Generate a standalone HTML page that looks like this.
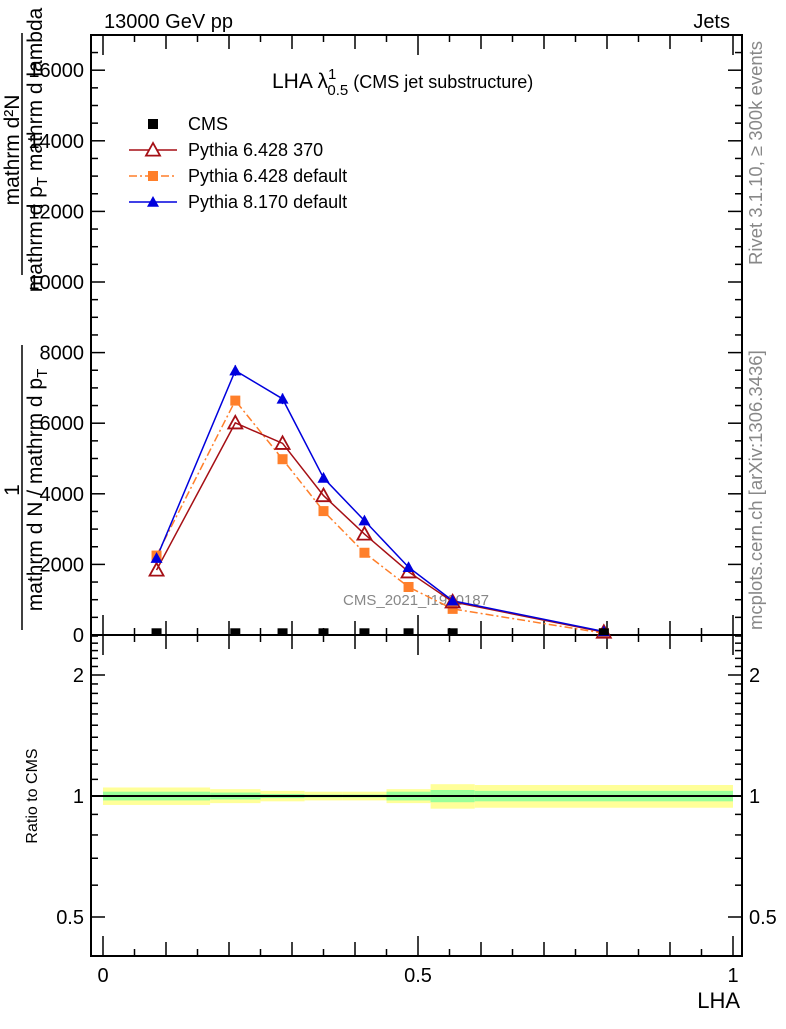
<!DOCTYPE html>
<html><head><meta charset="utf-8"><style>
body{margin:0;background:#fff}
svg{font-family:"Liberation Sans",sans-serif}
</style></head><body>
<svg id="c" width="786" height="1024" viewBox="0 0 786 1024" xmlns="http://www.w3.org/2000/svg">
<text x="104" y="28" font-size="20">13000 GeV pp</text>
<text x="730" y="28" font-size="20" text-anchor="end">Jets</text>
<text x="272" y="88" font-size="21">LHA λ<tspan font-size="15" dy="-9">1</tspan><tspan font-size="15" dx="-9" dy="16">0.5</tspan><tspan font-size="18" dy="-7"> (CMS jet substructure)</tspan></text>
<g font-size="18.5" fill="#888">
<text transform="translate(762,265) rotate(-90)">Rivet 3.1.10, ≥ 300k events</text>
<text transform="translate(762,630) rotate(-90)">mcplots.cern.ch [arXiv:1306.3436]</text>
<text x="416" y="605" text-anchor="middle" font-size="15">CMS_2021_I1920187</text>
</g>
<g font-size="21">
<text transform="translate(19,150) rotate(-90)" text-anchor="middle">mathrm d²N</text>
<line x1="22" y1="33" x2="22" y2="275" stroke="#000" stroke-width="1.5"/>
<text transform="translate(42,150) rotate(-90)" text-anchor="middle">mathrm d p<tspan font-size="15" dy="5">T</tspan><tspan dy="-5"> mathrm d lambda</tspan></text>
<text transform="translate(19,490) rotate(-90)" text-anchor="middle">1</text>
<line x1="22" y1="345" x2="22" y2="630" stroke="#000" stroke-width="1.5"/>
<text transform="translate(42,490) rotate(-90)" text-anchor="middle">mathrm d N / mathrm d p<tspan font-size="15" dy="5">T</tspan></text>
</g>
<text transform="translate(37,796) rotate(-90)" font-size="16" text-anchor="middle">Ratio to CMS</text>
<text x="740" y="1008" font-size="22" text-anchor="end">LHA</text>
<g id="bands"></g>
<g id="axes"></g>
<g id="series"></g>
<g id="legend"></g>
</svg>
<script>
const binEdges=[0,0.17,0.25,0.32,0.38,0.45,0.52,0.59,1.0];
const cmsVals=[20,20,20,20,20,20,20,20];
const p6370=[1840,6010,5430,3950,2860,1790,940,80];
const p6def=[2250,6640,4980,3510,2330,1360,740,50];
const p8def=[2180,7490,6690,4450,3240,1920,970,100];
const p8err=[80,150,150,100,80,60,40,10];
const yellowRel=[0.05,0.04,0.03,0.025,0.025,0.04,0.07,0.065];
const greenRel=[0.025,0.02,0.012,0.008,0.008,0.025,0.035,0.03];
const yTicks=[0,2000,4000,6000,8000,10000,12000,14000,16000];
const rTicks=[0.5,1,2];
const xTicks=[0,0.5,1];

const NS="http://www.w3.org/2000/svg";
const L=91,R=742,T=35,MB=635,RB=956;
const X=v=>103+v*630;
const Y=v=>MB-v*0.0353;
const RY=v=>796-Math.log10(v)/0.30103*121;
function mk(p,tag,at){const e=document.createElementNS(NS,tag);for(const k in at)e.setAttribute(k,at[k]);document.getElementById(p).appendChild(e);return e;}
for(let i=0;i<8;i++){
 const x1=X(binEdges[i]),x2=X(binEdges[i+1]);
 let e=mk('bands','rect',{x:x1,y:RY(1+yellowRel[i]),width:x2-x1,height:RY(1-yellowRel[i])-RY(1+yellowRel[i]),fill:'#ffff99'});
 
 
 e=mk('bands','rect',{x:x1,y:RY(1+greenRel[i]),width:x2-x1,height:RY(1-greenRel[i])-RY(1+greenRel[i]),fill:'#99ff99'});
 
 
}
let ln=mk('bands','line',{x1:L,x2:R,y1:RY(1),y2:RY(1),stroke:'#000','stroke-width':2});


let f=mk('axes','rect',{x:L,y:T,width:R-L,height:MB-T,fill:'none',stroke:'#000','stroke-width':2});


f=mk('axes','rect',{x:L,y:MB,width:R-L,height:RB-MB,fill:'none',stroke:'#000','stroke-width':2});


for(let v=0;v<=17000;v+=500){const y=Y(v);const len=v%2000===0?14:7;
 mk('axes','line',{x1:L,x2:L+len,y1:y,y2:y,stroke:'#000','stroke-width':1.5});
 mk('axes','line',{x1:R,x2:R-len,y1:y,y2:y,stroke:'#000','stroke-width':1.5});}
yTicks.forEach(v=>{const t=mk('axes','text',{x:84,y:Y(v)+7,'font-size':20,'text-anchor':'end'});t.textContent=v;
 
 });
const rMinor=[0.4,0.5,0.6,0.7,0.8,0.9,1,1.1,1.2,1.3,1.4,1.5,1.6,1.7,1.8,1.9,2,2.1,2.2,2.3,2.4,2.5];
rMinor.forEach(v=>{const y=RY(v);if(y<MB||y>RB)return;const len=rTicks.includes(v)?14:7;
 mk('axes','line',{x1:L,x2:L+len,y1:y,y2:y,stroke:'#000','stroke-width':1.5});
 mk('axes','line',{x1:R,x2:R-len,y1:y,y2:y,stroke:'#000','stroke-width':1.5});});
rTicks.forEach(v=>{let t=mk('axes','text',{x:84,y:RY(v)+7,'font-size':20,'text-anchor':'end'});t.textContent=v;
 
 
 t=mk('axes','text',{x:749,y:RY(v)+7,'font-size':20});t.textContent=v;
 
 });
for(let k=0;k<=20;k++){const v=k*0.05;const x=X(v);const len=(k%10===0)?20:(k%2===0?14:7);
 [[T,1],[MB,-1],[MB,1],[RB,-1]].forEach(([y0,d])=>mk('axes','line',{x1:x,x2:x,y1:y0,y2:y0+d*len,stroke:'#000','stroke-width':1.5}));}
xTicks.forEach(v=>{const t=mk('axes','text',{x:X(v),y:982,'font-size':20,'text-anchor':'middle'});t.textContent=v;
 
 });
const cx=binEdges.slice(0,8).map((e,i)=>(e+binEdges[i+1])/2);
function line(vals,col,dash,name){const p=mk('series','polyline',{points:vals.map((v,i)=>X(cx[i])+','+Y(v)).join(' '),fill:'none',stroke:col,'stroke-width':1.5,'stroke-dasharray':dash||''});
 
 }
line(p6def,'#ff7f2a','8,3,2,3','line-pythia6-default');
line(p6370,'#a50f15','','line-pythia6-370');
line(p8def,'#0000dd','','line-pythia8-default');
const tri=(x,y,s)=>`${x},${y-s} ${x-s},${y+s*0.8} ${x+s},${y+s*0.8}`;
cx.forEach((c,i)=>{const x=X(c);
 let m=mk('series','rect',{x:x-5,y:Y(p6def[i])-5,width:10,height:10,fill:'#ff7f2a'});
 
 
 m=mk('series','polygon',{points:tri(x,Y(p6370[i]),7),fill:'#fff','fill-opacity':0,stroke:'#a50f15','stroke-width':1.8});
 
 
 mk('series','line',{x1:x,x2:x,y1:Y(p8def[i]+p8err[i]),y2:Y(p8def[i]-p8err[i]),stroke:'#0000dd','stroke-width':1.5});
 m=mk('series','polygon',{points:tri(x,Y(p8def[i]),6),fill:'#0000dd'});
 
 
 m=mk('series','rect',{x:x-5,y:Y(cmsVals[i])-6,width:10,height:7,fill:'#000'});
 
 
});
const leg=[['CMS','#000','sq'],['Pythia 6.428 370','#a50f15','otri'],['Pythia 6.428 default','#ff7f2a','dsq'],['Pythia 8.170 default','#0000dd','tri']];
leg.forEach((e,i)=>{const y=124+i*26;
 if(e[2]!=='sq'){mk('legend','line',{x1:129,x2:177,y1:y,y2:y,stroke:e[1],'stroke-width':1.5,'stroke-dasharray':e[2]==='dsq'?'8,3,2,3':''});}
 if(e[2]==='sq'||e[2]==='dsq')mk('legend','rect',{x:148,y:y-5,width:10,height:10,fill:e[1]});
 if(e[2]==='otri')mk('legend','polygon',{points:tri(153,y,7),fill:'#fff',stroke:e[1],'stroke-width':1.8});
 if(e[2]==='tri')mk('legend','polygon',{points:tri(153,y,6),fill:e[1]});
 const t=mk('legend','text',{x:188,y:y+6,'font-size':18});t.textContent=e[0];
 
 
});
</script>
</body></html>
